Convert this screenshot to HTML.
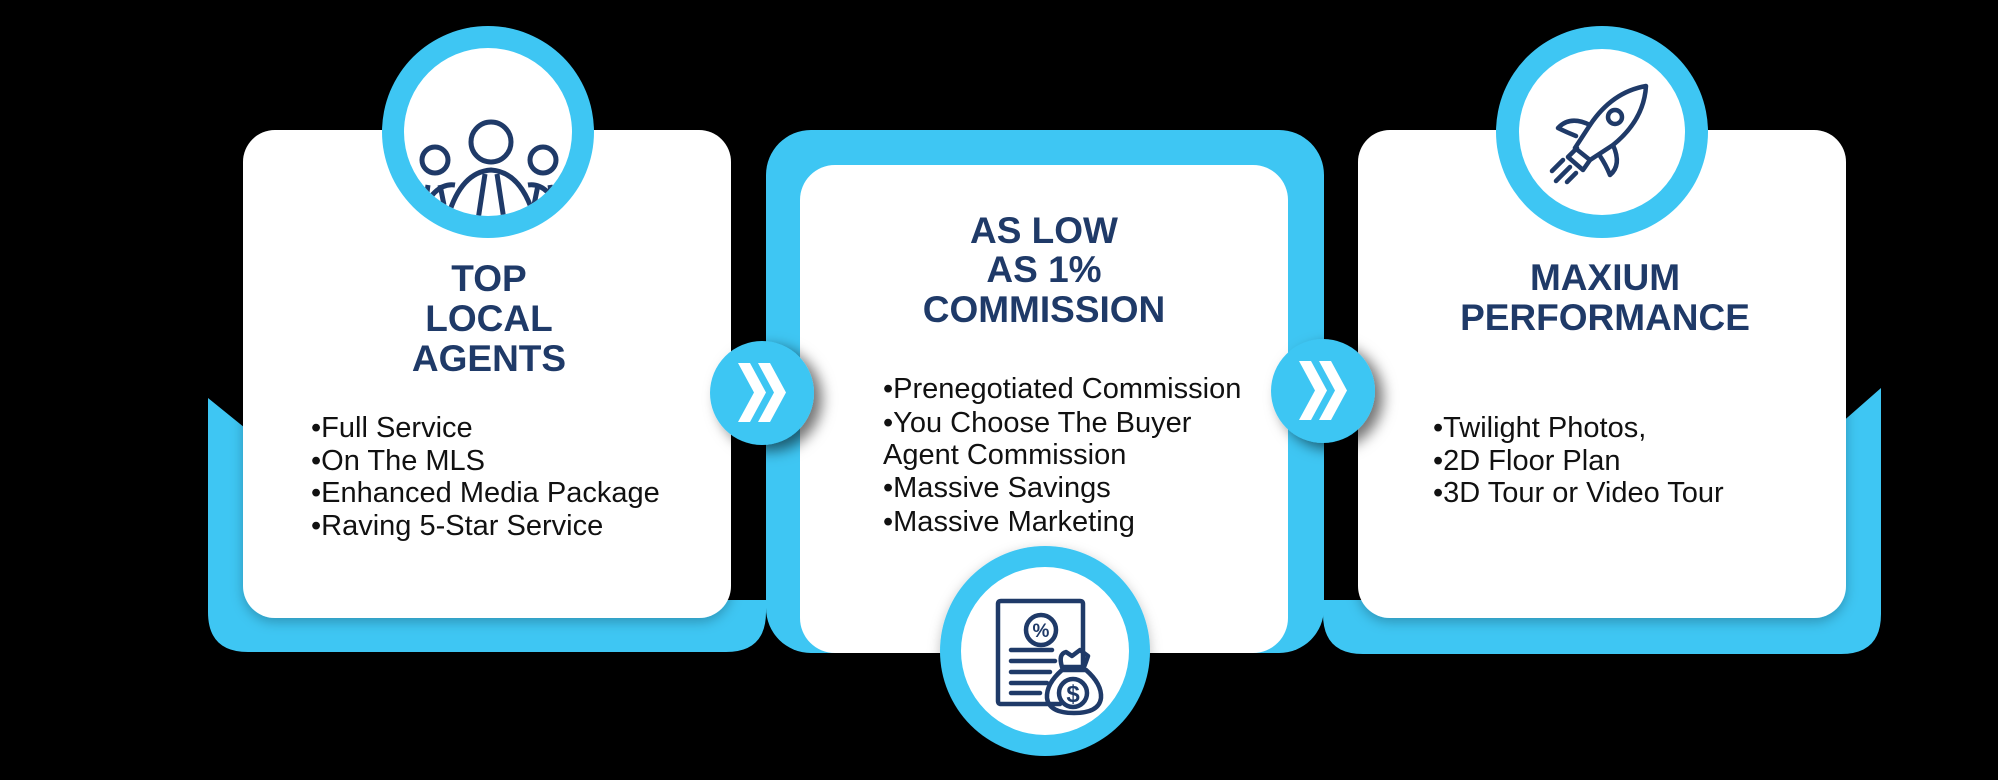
<!DOCTYPE html>
<html><head><meta charset="utf-8"><style>
html,body{margin:0;padding:0;background:#000;}
svg{display:block}
.t{font-family:"Liberation Sans",sans-serif;font-weight:bold;font-size:37px;fill:#1f3a68;text-anchor:middle}
.b{font-family:"Liberation Sans",sans-serif;font-size:29px;fill:#111}
</style></head><body>
<svg width="1998" height="780" viewBox="0 0 1998 780" xmlns="http://www.w3.org/2000/svg">
<defs>
<filter id="sh" x="-30%" y="-30%" width="170%" height="170%"><feDropShadow dx="8" dy="6" stdDeviation="7" flood-color="#000" flood-opacity="0.55"/></filter>
<filter id="sh2" x="-20%" y="-20%" width="140%" height="140%"><feDropShadow dx="0" dy="4" stdDeviation="6" flood-color="#000" flood-opacity="0.25"/></filter>
<clipPath id="c1"><circle cx="488" cy="132" r="84"/></clipPath>
</defs>
<rect width="1998" height="780" fill="#000"/>

<!-- Card 1 -->
<path d="M208,398 L250,432 L720,432 L720,600 L766,600 L766,612 Q766,652 726,652 L248,652 Q208,652 208,612 Z" fill="#3ec6f3"/>
<rect x="243" y="130" width="488" height="488" rx="32" fill="#fff" filter="url(#sh2)"/>
<circle cx="488" cy="132" r="106" fill="#3ec6f3"/>
<circle cx="488" cy="132" r="84" fill="#fff"/>
<g clip-path="url(#c1)" fill="none" stroke="#1f3a68" stroke-width="5">
<circle cx="491" cy="142" r="20"/>
<circle cx="435" cy="160" r="13"/>
<circle cx="543" cy="160" r="13"/>
<path d="M420,215 Q435,182 455,185"/>
<path d="M562,215 Q548,182 528,185"/>
<path d="M447,220 Q460,172 491,170 Q522,172 535,220"/>
<path d="M485,174 L478,220 M497,174 L504,220"/>
<path d="M428,185 L424,215 M440,185 L444,205 M550,185 L554,215 M538,185 L534,205"/>
</g>
<text class="t" x="489" y="291">TOP</text>
<text class="t" x="489" y="331">LOCAL</text>
<text class="t" x="489" y="371">AGENTS</text>
<text class="b" x="311" y="437">•Full Service</text>
<text class="b" x="311" y="470">•On The MLS</text>
<text class="b" x="311" y="502">•Enhanced Media Package</text>
<text class="b" x="311" y="535">•Raving 5-Star Service</text>

<!-- Card 2 -->
<rect x="766" y="130" width="558" height="523" rx="45" fill="#3ec6f3"/>
<rect x="800" y="165" width="488" height="488" rx="35" fill="#fff"/>
<text class="t" x="1044" y="243">AS LOW</text>
<text class="t" x="1044" y="282">AS 1%</text>
<text class="t" x="1044" y="322">COMMISSION</text>
<text class="b" x="883" y="398">•Prenegotiated Commission</text>
<text class="b" x="883" y="432">•You Choose The Buyer</text>
<text class="b" x="883" y="464">Agent Commission</text>
<text class="b" x="883" y="497">•Massive Savings</text>
<text class="b" x="883" y="531">•Massive Marketing</text>
<circle cx="1045" cy="651" r="105" fill="#3ec6f3" filter="url(#sh2)"/>
<circle cx="1045" cy="651" r="84" fill="#fff"/>
<g fill="none" stroke="#1f3a68" stroke-width="4.5" stroke-linecap="round" stroke-linejoin="round">
<path d="M1060,704 L1001,704 Q998,704 998,701 L998,604 Q998,601 1001,601 L1080,601 Q1083,601 1083,604 L1083,668"/>
<circle cx="1041" cy="630" r="15"/>
<path d="M1011,650 L1052,650 M1011,661 L1055,661 M1011,672 L1050,672 M1011,683 L1047,683 M1011,693 L1040,693"/>
<path d="M1062,667 Q1058,654 1066,652 L1072,656 L1080,650 L1088,656 Q1086,662 1084,667 Z"/>
<path d="M1062,670 Q1046,684 1047,698 Q1049,713 1074,713 Q1099,713 1101,698 Q1102,684 1086,670 Z"/>
<circle cx="1073" cy="693" r="14"/>
</g>
<text x="1073" y="702" font-family="Liberation Sans,sans-serif" font-size="24" font-weight="bold" fill="#1f3a68" text-anchor="middle">$</text>
<text x="1041" y="637" font-family="Liberation Sans,sans-serif" font-size="19" font-weight="bold" fill="#1f3a68" text-anchor="middle">%</text>

<!-- Card 3 -->
<path d="M1881,388 L1840,424 L1370,424 L1370,600 L1323,600 L1323,614 Q1323,654 1363,654 L1841,654 Q1881,654 1881,614 Z" fill="#3ec6f3"/>
<rect x="1358" y="130" width="488" height="488" rx="32" fill="#fff" filter="url(#sh2)"/>
<circle cx="1602" cy="132" r="106" fill="#3ec6f3"/>
<circle cx="1602" cy="132" r="83" fill="#fff"/>
<g fill="none" stroke="#1f3a68" stroke-width="4.5" stroke-linecap="round" stroke-linejoin="round">
<path d="M1646,86 Q1612,92 1590,125 L1575,148 L1590,160 L1613,145 Q1644,120 1646,86 Z"/>
<circle cx="1615" cy="117" r="7"/>
<path d="M1590,125 Q1570,115 1558,128 Q1566,132 1576,136"/>
<path d="M1613,145 Q1622,165 1610,175 Q1606,165 1600,156"/>
<path d="M1577,148 L1568,157 L1583,170 L1590,160"/>
<path d="M1563,160 L1552,171 M1570,167 L1556,181 M1576,173 L1567,182"/>
</g>
<text class="t" x="1605" y="290">MAXIUM</text>
<text class="t" x="1605" y="330">PERFORMANCE</text>
<text class="b" x="1433" y="437">•Twilight Photos,</text>
<text class="b" x="1433" y="470">•2D Floor Plan</text>
<text class="b" x="1433" y="502">•3D Tour or Video Tour</text>

<!-- Chevrons -->
<g filter="url(#sh)"><circle cx="762" cy="393" r="52" fill="#3ec6f3"/></g>
<g transform="translate(738,363)" fill="#fff"><path d="M0,0 L12,0 L28,29.5 L12,59 L0,59 L16,29.5 Z"/><path d="M20,0 L32,0 L48,29.5 L32,59 L20,59 L36,29.5 Z"/></g>
<g filter="url(#sh)"><circle cx="1323" cy="391" r="52" fill="#3ec6f3"/></g>
<g transform="translate(1299,361)" fill="#fff"><path d="M0,0 L12,0 L28,29.5 L12,59 L0,59 L16,29.5 Z"/><path d="M20,0 L32,0 L48,29.5 L32,59 L20,59 L36,29.5 Z"/></g>
</svg>
</body></html>
